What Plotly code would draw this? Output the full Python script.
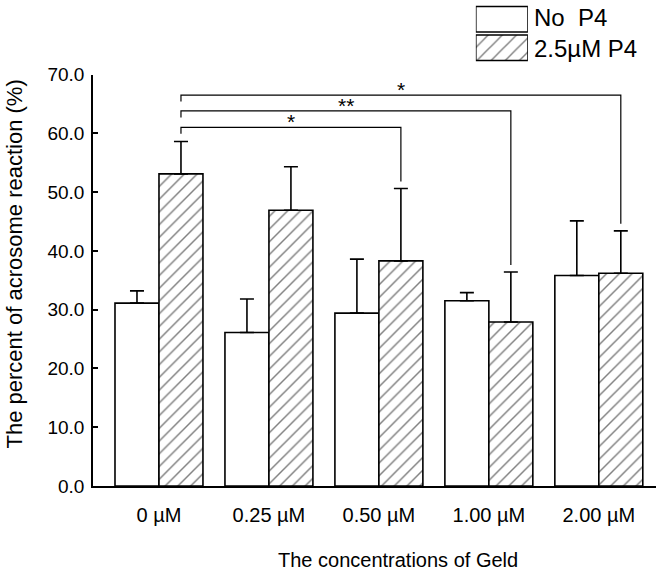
import plotly.graph_objects as go

# ---- data ----
categories = ["0 µM", "0.25 µM", "0.50 µM", "1.00 µM", "2.00 µM"]
no_p4 = [31.1, 26.1, 29.4, 31.5, 35.8]
no_p4_err = [2.1, 5.7, 9.2, 1.4, 9.3]
p4 = [53.1, 46.9, 38.3, 27.9, 36.2]
p4_err = [5.5, 7.4, 12.3, 8.5, 7.2]
series_names = ["No  P4", "2.5µM P4"]
yticks = [0, 10, 20, 30, 40, 50, 60, 70]
# significance comparisons: (from group, to group, label, bracket height)
comparisons = [(0, 2, "*", 61.0), (0, 3, "**", 63.8), (0, 4, "*", 66.5)]

FONT = "Liberation Sans, Arial, sans-serif"
xs = list(range(len(categories)))

fig = go.Figure()
fig.add_trace(go.Bar(
    x=xs, y=no_p4, name=series_names[0],
    marker=dict(color="white", line=dict(color="black", width=1.6)),
    error_y=dict(type="data", array=no_p4_err, arrayminus=[0]*len(no_p4),
                 symmetric=False, color="black", thickness=1.6, width=7),
    showlegend=False,
))
fig.add_trace(go.Bar(
    x=xs, y=p4, name=series_names[1],
    marker=dict(color="white", line=dict(color="black", width=1.6),
                pattern=dict(shape="/", fgcolor="black", bgcolor="white",
                             size=9, solidity=0.16)),
    error_y=dict(type="data", array=p4_err, arrayminus=[0]*len(p4),
                 symmetric=False, color="black", thickness=1.6, width=7),
    showlegend=False,
))

# legend keys drawn as bars on an auxiliary axis
fig.add_trace(go.Bar(
    x=[1, 1], y=[1, 0], orientation="h", base=0, width=0.9,
    xaxis="x2", yaxis="y2", showlegend=False, hoverinfo="skip",
    marker=dict(color="white", line=dict(color="black", width=1.5),
                pattern=dict(shape=["", "/"], fgcolor="black", bgcolor="white",
                             size=10, solidity=0.14)),
))

shapes = []
annotations = []
off = 0.2  # centre offset of the hatched bar inside a group
for (a, b, lab, h) in comparisons:
    xa = a + off
    xb = b + off
    yb = p4[b] + p4_err[b] + 1.2
    path = f"M {xa},{h-1.1} L {xa},{h} L {xb},{h} L {xb},{yb}"
    shapes.append(dict(type="path", path=path, xref="x", yref="y",
                       line=dict(color="black", width=1.2)))
    annotations.append(dict(x=(xa + xb) / 2, y=h, xref="x", yref="y",
                            text=lab, showarrow=False, yanchor="bottom",
                            font=dict(family=FONT, size=21, color="black"),
                            yshift=-8))

# legend labels
for name, py in zip(series_names, [0.975, 0.9106]):
    annotations.append(dict(x=0.78, y=py, xref="paper", yref="paper",
                            text=name, showarrow=False, xanchor="left",
                            yanchor="middle",
                            font=dict(family=FONT, size=24, color="black")))

# axis titles
annotations.append(dict(x=0.5415, y=-0.154, xref="paper", yref="paper",
                        text="The concentrations of Geld", showarrow=False,
                        xanchor="center", yanchor="middle",
                        font=dict(family=FONT, size=20, color="black")))
annotations.append(dict(x=-0.139, y=0.462, xref="paper", yref="paper",
                        text="The percent of acrosome reaction (%)",
                        showarrow=False, textangle=-90,
                        xanchor="center", yanchor="middle",
                        font=dict(family=FONT, size=22, color="black")))

fig.update_layout(
    width=661, height=574, autosize=False,
    margin=dict(l=93, r=5, t=5, b=88, autoexpand=False),
    paper_bgcolor="white", plot_bgcolor="white",
    barmode="group", bargap=0.2, bargroupgap=0,
    font=dict(family=FONT, size=19, color="black"),
    xaxis=dict(range=[-0.6, 4.52], tickvals=xs, ticktext=categories,
               showline=True, linecolor="black", linewidth=1.5,
               showgrid=False, zeroline=False, ticks="",
               ticklabelstandoff=10, automargin=False,
               tickfont=dict(family=FONT, size=20, color="black")),
    yaxis=dict(domain=[0, 0.8555], range=[0, 70], tickvals=yticks,
               tickformat=".1f", showline=True, linecolor="black",
               linewidth=1.5, showgrid=False, zeroline=False,
               ticks="inside", ticklen=5, tickwidth=1.5, tickcolor="black",
               ticklabelstandoff=3, automargin=False,
               tickfont=dict(family=FONT, size=19, color="black")),
    xaxis2=dict(domain=[0.680, 0.7725], anchor="y2", range=[0, 1],
                visible=False, fixedrange=True),
    yaxis2=dict(domain=[0.8815, 1.0], anchor="x2", range=[-0.5, 1.5],
                visible=False, fixedrange=True),
    shapes=shapes,
    annotations=annotations,
)

fig.write_html(
    "out.html",
    config={"responsive": False, "displayModeBar": False},
    post_script="document.body.style.margin='0';document.body.style.overflow='hidden';",
)
